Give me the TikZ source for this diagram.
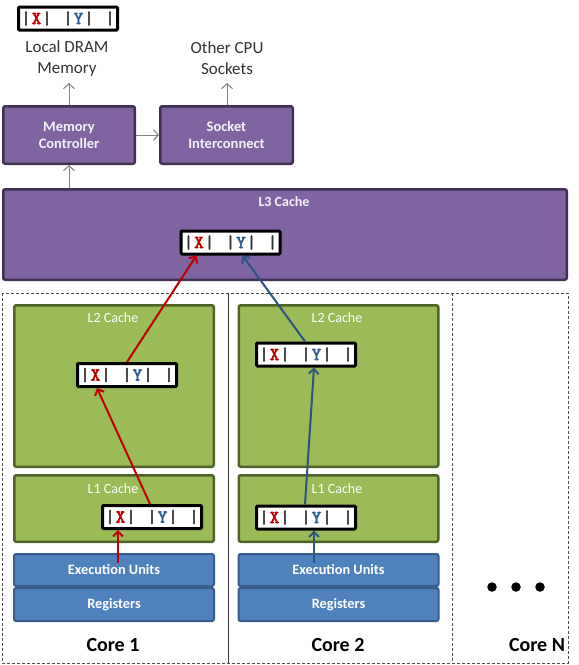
\documentclass[tikz,border=0pt]{standalone}
\usepackage{fontspec}
\setmainfont{Carlito}
\newfontfamily\monof[FakeBold=3.5]{Latin Modern Mono}
\usetikzlibrary{arrows.meta}
\definecolor{pfill}{HTML}{8064A2}
\definecolor{pdraw}{HTML}{3F3151}
\definecolor{gfill}{HTML}{9BBB59}
\definecolor{gdraw}{HTML}{4F6228}
\definecolor{bfill}{HTML}{4F81BD}
\definecolor{bdraw}{HTML}{385D8A}
\definecolor{xred}{HTML}{C00000}
\definecolor{yblue}{HTML}{2E5D8E}
\definecolor{arrblue}{HTML}{2C5482}
\definecolor{arrgray}{HTML}{7F7F7F}
\definecolor{bargray}{HTML}{333333}
\newcommand\cellc[1]{\makebox[10.5pt]{#1}}
\newcommand\cacheline{{\monof\fontsize{18}{18}\selectfont\color{bargray}%
\cellc{|}\cellc{\color{xred}X}\cellc{|}\cellc{}\cellc{|}\cellc{\color{yblue}Y}\cellc{|}\cellc{}\cellc{|}}}
\tikzset{
  linebox/.style={draw=black, line width=3pt, fill=white, minimum width=99pt, minimum height=23pt, inner sep=0pt, rounded corners=1pt},
  purplebox/.style={draw=pdraw, fill=pfill, line width=2.5pt, rounded corners=2pt, inner sep=0pt, text=white!92!pfill, align=center, font=\bfseries\fontsize{14.5}{17}\selectfont},
  greenbox/.style={draw=gdraw, fill=gfill, line width=2.5pt, rounded corners=2pt, inner sep=0pt, minimum width=199.5pt},
  bluebox/.style={draw=bdraw, fill=bfill, line width=2pt, rounded corners=2pt, inner sep=0pt, minimum width=200pt, text=white, font=\bfseries\fontsize{14.3}{16}\selectfont},
  cachelbl/.style={text=white, inner sep=0pt, font=\fontsize{14}{16}\selectfont},
  toplbl/.style={text=black!80, inner sep=0pt, align=center, font=\fontsize{17}{21}\selectfont},
  corelbl/.style={text=black, inner sep=0pt, font=\bfseries\fontsize{20}{22}\selectfont},
  garrow/.style={draw=arrgray, line width=1pt, -{Straight Barb[length=5pt,width=11pt]}},
  rarrow/.style={draw=xred, line width=2pt, -{Straight Barb[length=5pt,width=10pt]}},
  barrow/.style={draw=arrblue, line width=2pt, -{Straight Barb[length=5pt,width=10pt]}},
  dotn/.style={circle, fill=black, inner sep=0pt, minimum size=9.5pt}
}
\begin{document}
\begin{tikzpicture}[x=1pt,y=-1pt]
\useasboundingbox (0,0) rectangle (579,665);
% top
\node[linebox] (dram) at (68,18.5) {\cacheline};
\node[toplbl] (dramlbl) at (67,58) {Local DRAM\\Memory};
\node[toplbl] (cpulbl) at (227,58) {Other CPU\\Sockets};
\node[purplebox, minimum width=131.5pt, minimum height=57.5pt] (mc) at (69,135) {Memory\\Controller};
\node[purplebox, minimum width=132.5pt, minimum height=57.5pt] (si) at (226.5,135) {Socket\\Interconnect};
% L3
\node[purplebox, minimum width=563.5pt, minimum height=90.5pt] (l3) at (285,234.5) {};
\node[text=white!92!pfill, inner sep=0pt, font=\bfseries\fontsize{14}{16}\selectfont] (l3lbl) at (284,202) {L3 Cache};
\node[linebox] (l3line) at (230.5,242.5) {\cacheline};
% core frame
\draw[densely dashed, line width=0.8pt, black!70] (2,293) rectangle (568,663);
\draw[line width=0.8pt, black!80] (228,293) -- (228,663);
\draw[densely dashed, line width=0.8pt, black!70] (452,293) -- (452,663);
% core 1
\node[greenbox, minimum height=161.5pt] (l2a) at (114,386) {};
\node[cachelbl] (l2albl) at (113,318) {L2 Cache};
\node[greenbox, minimum height=66.5pt] (l1a) at (114,508.5) {};
\node[cachelbl] (l1albl) at (113,489) {L1 Cache};
\node[bluebox, minimum height=32pt] (exa) at (114,570) {Execution Units};
\node[bluebox, minimum height=33pt] (rga) at (114,604.5) {Registers};
\node[linebox] (l2aline) at (127,375) {\cacheline};
\node[linebox] (l1aline) at (152,517) {\cacheline};
\node[corelbl] (core1) at (113,645) {Core 1};
% core 2
\node[greenbox, minimum height=161.5pt] (l2b) at (338.5,386) {};
\node[cachelbl] (l2blbl) at (337,318) {L2 Cache};
\node[greenbox, minimum height=66.5pt] (l1b) at (338.5,508.5) {};
\node[cachelbl] (l1blbl) at (337,489) {L1 Cache};
\node[bluebox, minimum height=32pt] (exb) at (338.5,570) {Execution Units};
\node[bluebox, minimum height=33pt] (rgb) at (338.5,604.5) {Registers};
\node[linebox] (l2bline) at (306,354.5) {\cacheline};
\node[linebox] (l1bline) at (306,517.5) {\cacheline};
\node[corelbl] (core2) at (338,645) {Core 2};
% core N
\node[dotn] (d1) at (492,587) {};
\node[dotn] (d2) at (516,587) {};
\node[dotn] (d3) at (540,587) {};
\node[corelbl] (coren) at (537,645) {Core N};
% gray arrows
\coordinate (dramtip) at (69,83);
\coordinate (socktip) at (227,83);
\draw[garrow] (mc.north) -- (dramtip);
\draw[garrow] (si.north -| socktip) -- (socktip);
\draw[garrow] (mc.east) -- (si.west);
\draw[garrow] (l3.north -| mc.north) -- (mc.south);
% red path
\coordinate (r0) at (118,563);
\draw[rarrow] (r0) -- (l1aline.south -| r0);
\draw[rarrow] ([xshift=-2pt]l1aline.north) -- ([xshift=-30pt]l2aline.south);
\draw[rarrow] (l2aline.north) -- ([xshift=-34pt]l3line.south);
% blue path
\coordinate (b0) at (314,563);
\draw[barrow] (b0) -- (l1bline.south -| b0);
\draw[barrow] ([xshift=-1pt]l1bline.north) -- ([xshift=8pt]l2bline.south);
\draw[barrow] ([xshift=-1pt]l2bline.north) -- ([xshift=12pt]l3line.south);
\end{tikzpicture}
\end{document}
